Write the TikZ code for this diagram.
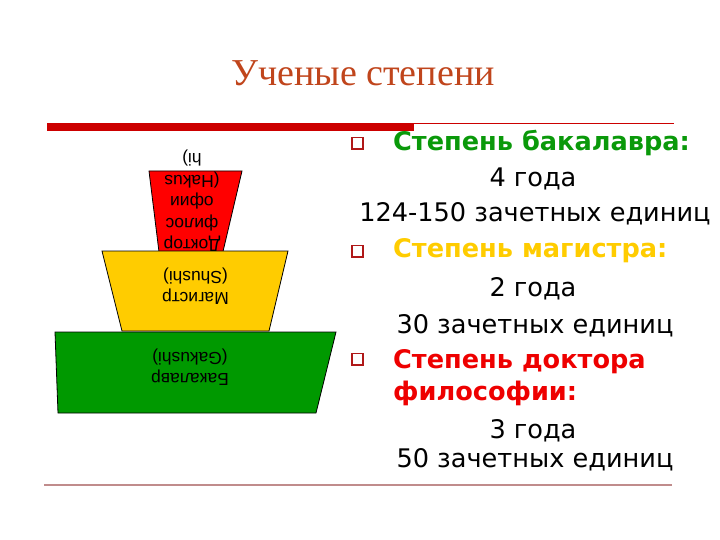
\documentclass[tikz,border=0pt]{standalone}
\usepackage{fontspec}
\setmainfont{Liberation Serif}
\newfontfamily\arialf{Liberation Sans}
\newfontfamily\verd{DejaVu Sans}
\definecolor{titlec}{HTML}{C0451C}
\definecolor{barred}{HTML}{CC0000}
\definecolor{botline}{HTML}{C08C8C}
\definecolor{gfill}{HTML}{009900}
\definecolor{yfill}{HTML}{FFCC00}
\definecolor{rfill}{HTML}{FF0000}
\definecolor{gtext}{HTML}{0A990A}
\definecolor{ytext}{HTML}{FFCC00}
\definecolor{rtext}{HTML}{EE0000}
\definecolor{bulc}{HTML}{B01818}
\tikzset{
  trap/.style={draw=black, line width=0.8pt},
  traptext/.style={rotate=180, align=center, font=\arialf\fontsize{17.4}{21.5}\selectfont, inner sep=0pt},
  body/.style={anchor=base, font=\verd\fontsize{25.6}{30}\selectfont, inner sep=0pt},
  head/.style={anchor=base west, font=\verd\bfseries\fontsize{25.6}{30}\selectfont, inner sep=0pt},
  bul/.style={draw=bulc, line width=1.5pt, fill=white}
}
\begin{document}
\begin{tikzpicture}[x=1pt,y=-1pt]
\useasboundingbox (0,0) rectangle (720,540);
% title
\node[anchor=base, font=\fontsize{38}{44}\selectfont, text=titlec, inner sep=0pt] (title) at (363,86) {Ученые степени};
% rules
\fill[barred] (47,123) rectangle (414,131);
\draw[barred, line width=1pt] (414,123.5) -- (674,123.5);
\draw[botline, line width=2pt] (44,485) -- (672,485);
% red trapezoid
\draw[trap, fill=rfill] (149,171) -- (242,171) -- (221,260) -- (160,260) -- cycle;
\node[traptext] (doc) at (192,201) {Доктор\\филос\\офии\\(Hakus\\hi)};
% yellow trapezoid
\draw[trap, fill=yfill] (102,251) -- (288,251) -- (269,331) -- (122,331) -- cycle;
\node[traptext] (mag) at (195.5,286) {Магистр\\(Shushi)};
% green trapezoid
\draw[trap, fill=gfill] (55,332) -- (336,332) -- (316,413) -- (58,413) -- cycle;
\node[traptext] (bac) at (190,367) {Бакалавр\\(Gakushi)};
% bullets
\draw[bul] (352,137.5) rectangle (363,149);
\draw[bul] (352,245.5) rectangle (363,257);
\draw[bul] (352,353.5) rectangle (363,365);
% right text
\node[head, text=gtext] (h1) at (393,151) {Степень бакалавра:};
\node[body] (l1) at (533,187) {4 года};
\node[body] (l2) at (535,222) {124-150 зачетных единиц};
\node[head, text=ytext] (h2) at (393,258) {Степень магистра:};
\node[body] (l3) at (533,296) {2 года};
\node[body] (l4) at (535,333) {30 зачетных единиц};
\node[head, text=rtext] (h3) at (393,368) {Степень доктора};
\node[head, text=rtext] (h3b) at (393,400) {философии:};
\node[body] (l5) at (533,438) {3 года};
\node[body] (l6) at (535,467) {50 зачетных единиц};
\end{tikzpicture}
\end{document}
